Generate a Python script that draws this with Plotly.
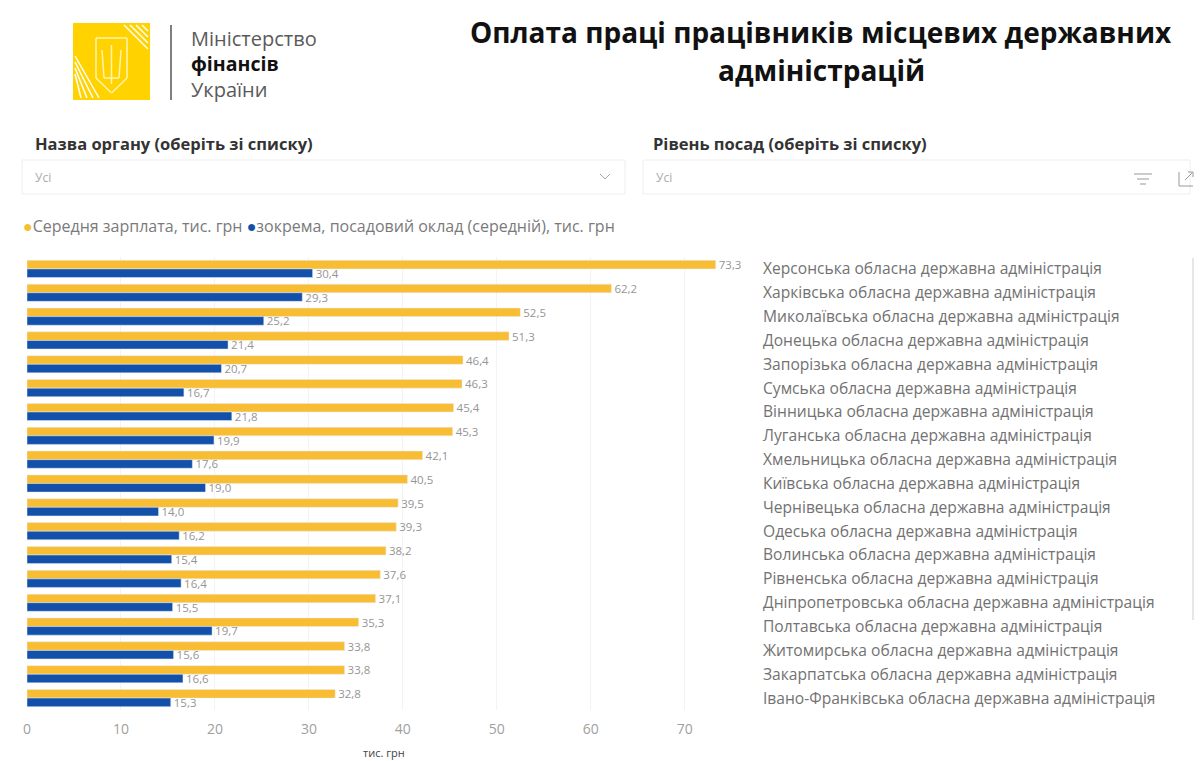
import plotly.graph_objects as go

# ---------------- data ----------------
regions = [
    "Херсонська обласна державна адміністрація",
    "Харківська обласна державна адміністрація",
    "Миколаївська обласна державна адміністрація",
    "Донецька обласна державна адміністрація",
    "Запорізька обласна державна адміністрація",
    "Сумська обласна державна адміністрація",
    "Вінницька обласна державна адміністрація",
    "Луганська обласна державна адміністрація",
    "Хмельницька обласна державна адміністрація",
    "Київська обласна державна адміністрація",
    "Чернівецька обласна державна адміністрація",
    "Одеська обласна державна адміністрація",
    "Волинська обласна державна адміністрація",
    "Рівненська обласна державна адміністрація",
    "Дніпропетровська обласна державна адміністрація",
    "Полтавська обласна державна адміністрація",
    "Житомирська обласна державна адміністрація",
    "Закарпатська обласна державна адміністрація",
    "Івано-Франківська обласна державна адміністрація",
]
avg_salary = [73.3, 62.2, 52.5, 51.3, 46.4, 46.3, 45.4, 45.3, 42.1, 40.5,
              39.5, 39.3, 38.2, 37.6, 37.1, 35.3, 33.8, 33.8, 32.8]
base_salary = [30.4, 29.3, 25.2, 21.4, 20.7, 16.7, 21.8, 19.9, 17.6, 19.0,
               14.0, 16.2, 15.4, 16.4, 15.5, 19.7, 15.6, 16.6, 15.3]
x_ticks = [0, 10, 20, 30, 40, 50, 60, 70]
series_names = ["Середня зарплата, тис. грн",
                "зокрема, посадовий оклад (середній), тис. грн"]

YELLOW = "#F8BD32"
BLUE = "#1250AA"
FONT = "Open Sans"

W, H = 1204, 761
ML, MR, MT, MB = 27, 446, 257, 51
PW, PH = W - ML - MR, H - MT - MB


def px(xp):
    return (xp - ML) / PW


def py(yp):
    return (H - MB - yp) / PH


fig = go.Figure()
fig.add_trace(go.Bar(
    y=regions, x=avg_salary, orientation="h", name=series_names[0],
    marker_color=YELLOW, texttemplate="%{x:.1f}", textposition="outside",
    constraintext="none",
    textfont=dict(size=11.5, color="#959595", family=FONT), cliponaxis=False))
fig.add_trace(go.Bar(
    y=regions, x=base_salary, orientation="h", name=series_names[1],
    marker_color=BLUE, texttemplate="%{x:.1f}", textposition="outside",
    constraintext="none",
    textfont=dict(size=11.5, color="#959595", family=FONT), cliponaxis=False))

fig.update_layout(
    width=W, height=H,
    margin=dict(l=ML, r=MR, t=MT, b=MB, autoexpand=False),
    paper_bgcolor="white", plot_bgcolor="white",
    barmode="group", bargap=0.28, bargroupgap=0.0,
    separators=", ",
    showlegend=False,
    font=dict(family=FONT, color="#666"),
    xaxis=dict(range=[0, 77.8], tickvals=x_ticks, showgrid=True,
               gridcolor="#f3f3f3", gridwidth=1, zeroline=False,
               showline=False, ticks="", ticklabelstandoff=9,
               tickfont=dict(size=14, color="#a0a0a0", family=FONT)),
    yaxis=dict(autorange="reversed", side="right", showgrid=False,
               showline=False, ticks="", ticklabelstandoff=4,
               automargin=False,
               tickfont=dict(size=15.6, color="#727272", family=FONT)),
)

ann = []
shapes = []

# ---- logo ----
shapes.append(dict(type="rect", xref="paper", yref="paper",
                   x0=px(73), x1=px(150), y0=py(100), y1=py(23),
                   fillcolor="#FFD200", line=dict(width=0), layer="above"))
for k in range(4):
    o = 6 * k
    shapes.append(dict(type="line", xref="paper", yref="paper",
                       x0=px(124 + o), y0=py(25), x1=px(148), y1=py(49 - o),
                       line=dict(color="white", width=1.5)))
    shapes.append(dict(type="line", xref="paper", yref="paper",
                       x0=px(75), y0=py(56 + o), x1=px(99 - o), y1=py(98),
                       line=dict(color="white", width=1.5)))
pts = [(96, 38), (127, 38), (127, 78), (111.5, 93), (96, 78), (96, 38)]
for (xa, ya), (xb, yb) in zip(pts[:-1], pts[1:]):
    shapes.append(dict(type="line", xref="paper", yref="paper",
                       x0=px(xa), y0=py(ya), x1=px(xb), y1=py(yb),
                       line=dict(color="#FFF4B0", width=1.5)))
for (xa, ya, xb, yb) in [(111.5, 45, 111.5, 84), (102, 50, 104, 78),
                         (121, 50, 119, 78), (104, 78, 119, 78)]:
    shapes.append(dict(type="line", xref="paper", yref="paper",
                       x0=px(xa), y0=py(ya), x1=px(xb), y1=py(yb),
                       line=dict(color="#FFF4B0", width=1.5)))
shapes.append(dict(type="line", xref="paper", yref="paper",
                   x0=px(171), x1=px(171), y0=py(25), y1=py(100),
                   line=dict(color="#555", width=1.5)))

ann.append(dict(text="Міністерство", x=px(189), y=py(38), xanchor="left",
                yanchor="middle", font=dict(size=20, color="#5a5a5a", family=FONT)))
ann.append(dict(text="<b>фінансів</b>", x=px(189), y=py(63), xanchor="left",
                yanchor="middle", font=dict(size=19.5, color="#111", family=FONT)))
ann.append(dict(text="України", x=px(189), y=py(89), xanchor="left",
                yanchor="middle", font=dict(size=20, color="#5a5a5a", family=FONT)))

# ---- title ----
ann.append(dict(text="<b>Оплата праці працівників місцевих державних</b>",
                x=px(821), y=py(32), xanchor="center", yanchor="middle",
                font=dict(size=28, color="#111", family=FONT)))
ann.append(dict(text="<b>адміністрацій</b>", x=px(821), y=py(70),
                xanchor="center", yanchor="middle",
                font=dict(size=28, color="#111", family=FONT)))

# ---- slicers ----
ann.append(dict(text="<b>Назва органу (оберіть зі списку)</b>", x=px(33), y=py(143),
                xanchor="left", yanchor="middle",
                font=dict(size=16.5, color="#333", family=FONT)))
ann.append(dict(text="<b>Рівень посад (оберіть зі списку)</b>", x=px(651), y=py(143),
                xanchor="left", yanchor="middle",
                font=dict(size=16.5, color="#333", family=FONT)))
for x0, x1 in [(22, 625), (643, 1190)]:
    shapes.append(dict(type="rect", xref="paper", yref="paper",
                       x0=px(x0), x1=px(x1), y0=py(194), y1=py(160),
                       fillcolor="white", line=dict(color="#eeeeee", width=1)))
    ann.append(dict(text="Усі", x=px(x0 + 11), y=py(177), xanchor="left",
                    yanchor="middle", font=dict(size=12, color="#aaa", family=FONT)))
for (xa, ya, xb, yb) in [(600, 174, 605, 179), (605, 179, 610, 174)]:
    shapes.append(dict(type="line", xref="paper", yref="paper",
                       x0=px(xa), y0=py(ya), x1=px(xb), y1=py(yb),
                       line=dict(color="#aaa", width=1)))
for (xa, xb, yy) in [(1134, 1152, 174), (1137, 1149, 179), (1140, 1146, 184)]:
    shapes.append(dict(type="line", xref="paper", yref="paper",
                       x0=px(xa), y0=py(yy), x1=px(xb), y1=py(yy),
                       line=dict(color="#999", width=1)))
for (xa, ya, xb, yb) in [(1179, 172, 1179, 186), (1179, 186, 1193, 186),
                         (1185, 180, 1192, 173), (1188, 172, 1193, 172),
                         (1193, 172, 1193, 177)]:
    shapes.append(dict(type="line", xref="paper", yref="paper",
                       x0=px(xa), y0=py(ya), x1=px(xb), y1=py(yb),
                       line=dict(color="#999", width=1)))

# ---- legend ----
ann.append(dict(
    text=("<span style='color:%s'>●</span>%s <span style='color:%s'>●</span>%s"
          % (YELLOW, series_names[0], BLUE, series_names[1])),
    x=px(21), y=py(226), xanchor="left", yanchor="middle",
    font=dict(size=16, color="#7a7a7a", family=FONT)))

# ---- axis title ----
ann.append(dict(text="тис. грн", x=px(384), y=py(752), xanchor="center",
                yanchor="middle", font=dict(size=11, color="#444", family=FONT)))

shapes.append(dict(type="line", xref="paper", yref="paper",
                   x0=px(1193), x1=px(1193), y0=py(258), y1=py(620),
                   line=dict(color="#cfcfcf", width=1)))

for a in ann:
    a.update(xref="paper", yref="paper", showarrow=False)

fig.update_layout(annotations=ann, shapes=shapes)
fig.write_html("out.html")
